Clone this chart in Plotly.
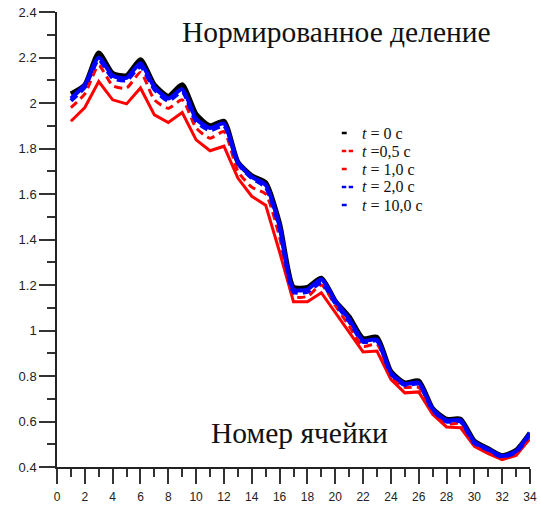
import plotly.graph_objects as go

# Cell numbers
cells = list(range(1, 35))

# Normalised fission rate per cell at different times
t0 = [2.04, 2.08, 2.22, 2.13, 2.12, 2.19, 2.08, 2.03, 2.08, 1.95, 1.90, 1.92,
      1.74, 1.68, 1.65, 1.47, 1.19, 1.19, 1.23, 1.13, 1.06, 0.965, 0.97, 0.82,
      0.77, 0.778, 0.657, 0.61, 0.61, 0.514, 0.48, 0.45, 0.473, 0.55]
t05 = [1.98, 2.04, 2.165, 2.076, 2.066, 2.134, 2.014, 1.977, 2.014, 1.89, 1.845, 1.874,
       1.70, 1.63, 1.60, 1.41, 1.15, 1.15, 1.20, 1.11, 1.02, 0.93, 0.94, 0.80,
       0.75, 0.75, 0.645, 0.59, 0.59, 0.50, 0.47, 0.44, 0.46, 0.535]
t1 = [1.92, 1.98, 2.094, 2.014, 1.996, 2.066, 1.948, 1.914, 1.958, 1.838, 1.79, 1.81,
      1.67, 1.59, 1.551, 1.345, 1.126, 1.126, 1.166, 1.08, 0.99, 0.906, 0.91, 0.785,
      0.726, 0.73, 0.632, 0.576, 0.573, 0.491, 0.459, 0.432, 0.451, 0.525]
t2 = [2.01, 2.07, 2.19, 2.11, 2.10, 2.16, 2.06, 2.01, 2.05, 1.92, 1.88, 1.90,
      1.735, 1.67, 1.63, 1.45, 1.17, 1.17, 1.21, 1.12, 1.04, 0.95, 0.955, 0.81,
      0.76, 0.765, 0.65, 0.60, 0.60, 0.505, 0.475, 0.445, 0.465, 0.545]
t10 = [2.02, 2.08, 2.20, 2.12, 2.11, 2.175, 2.07, 2.02, 2.06, 1.93, 1.89, 1.91,
       1.74, 1.675, 1.64, 1.46, 1.18, 1.18, 1.225, 1.13, 1.05, 0.955, 0.96, 0.815,
       0.765, 0.77, 0.655, 0.605, 0.605, 0.51, 0.478, 0.448, 0.47, 0.55]

labels = ["<i>t</i> = 0 с", "<i>t</i> =0,5 с", "<i>t</i> = 1,0 с",
          "<i>t</i> = 2,0 с", "<i>t</i> = 10,0 с"]
series = [t0, t05, t1, t2, t10]
colors = ["#000000", "#ff0000", "#ff0000", "#0000ff", "#0000ff"]
widths = [5, 3, 3, 4, 4]
dashes = ["solid", "8px,5px", "solid", "8px,5px", "solid"]
shapes_kind = ["spline", "spline", "linear", "spline", "spline"]

x_tick_vals = list(range(0, 35, 2))
y_tick_vals = [0.4, 0.6, 0.8, 1.0, 1.2, 1.4, 1.6, 1.8, 2.0, 2.2, 2.4]
y_tick_text = ["0.4", "0.6", "0.8", "1", "1.2", "1.4", "1.6", "1.8", "2", "2.2", "2.4"]

fig = go.Figure()
for name, ys, c, w, d, s in zip(labels, series, colors, widths, dashes, shapes_kind):
    fig.add_trace(go.Scatter(
        x=cells, y=ys, mode="lines", name=name,
        line=dict(color=c, width=w, dash=d, shape=s, smoothing=0.6),
        showlegend=False,
    ))

W, H = 541, 509
ML, MR, MT, MB = 57, 4, 12, 42
PW, PH = W - ML - MR, H - MT - MB


def px(xp):
    return (xp - ML) / PW


def py(yp):
    return (H - MB - yp) / PH


# Hand-drawn legend with short line samples
shapes = []
annotations = []
row_y = [133, 151, 169, 187, 205]
for name, c, d, yy in zip(labels, colors, dashes, row_y):
    if d == "solid":
        segs = [(346, 351)]
    else:
        segs = [(346, 350.5), (353, 357.5)]
    for a, b in segs:
        shapes.append(dict(type="line", xref="paper", yref="paper",
                           x0=px(a), x1=px(b), y0=py(yy), y1=py(yy),
                           line=dict(color=c, width=2.5)))
    annotations.append(dict(text=name, xref="paper", yref="paper",
                            x=px(365), y=py(yy), xanchor="left", yanchor="middle",
                            showarrow=False, borderpad=0,
                            font=dict(family="Liberation Serif", size=16, color="#111")))

annotations.append(dict(text="Нормированное деление", xref="paper", yref="paper",
                        x=px(341), y=py(32), xanchor="center", yanchor="middle",
                        showarrow=False,
                        font=dict(family="Liberation Serif", size=29.5, color="#111")))
annotations.append(dict(text="Номер ячейки", xref="paper", yref="paper",
                        x=px(303), y=py(433), xanchor="center", yanchor="middle",
                        showarrow=False,
                        font=dict(family="Liberation Serif", size=29.5, color="#111")))

fig.update_layout(
    width=W, height=H,
    margin=dict(l=ML, r=MR, t=MT, b=MB, pad=0),
    paper_bgcolor="white", plot_bgcolor="white",
    shapes=shapes, annotations=annotations,
    xaxis=dict(range=[0, 34], tickvals=x_tick_vals, showgrid=False, zeroline=False,
               showline=True, linecolor="#222", linewidth=1.5,
               ticks="outside", ticklen=15, tickwidth=1.5, tickcolor="#333",
               minor=dict(dtick=1, ticks="outside", ticklen=8, tickwidth=1.5, tickcolor="#333"),
               ticklabeloverflow="allow", ticklabelstandoff=3,
               tickfont=dict(family="Liberation Sans", size=12, color="#222")),
    yaxis=dict(range=[0.4, 2.4], tickvals=y_tick_vals, ticktext=y_tick_text,
               showgrid=False, zeroline=False,
               showline=True, linecolor="#222", linewidth=1.5,
               ticks="outside", ticklen=16, tickwidth=1.5, tickcolor="#333",
               minor=dict(dtick=0.1, tick0=0.4, ticks="outside", ticklen=8, tickwidth=1.5, tickcolor="#333"),
               tickfont=dict(family="Liberation Sans", size=13, color="#222")),
)

fig.write_html("out.html")
